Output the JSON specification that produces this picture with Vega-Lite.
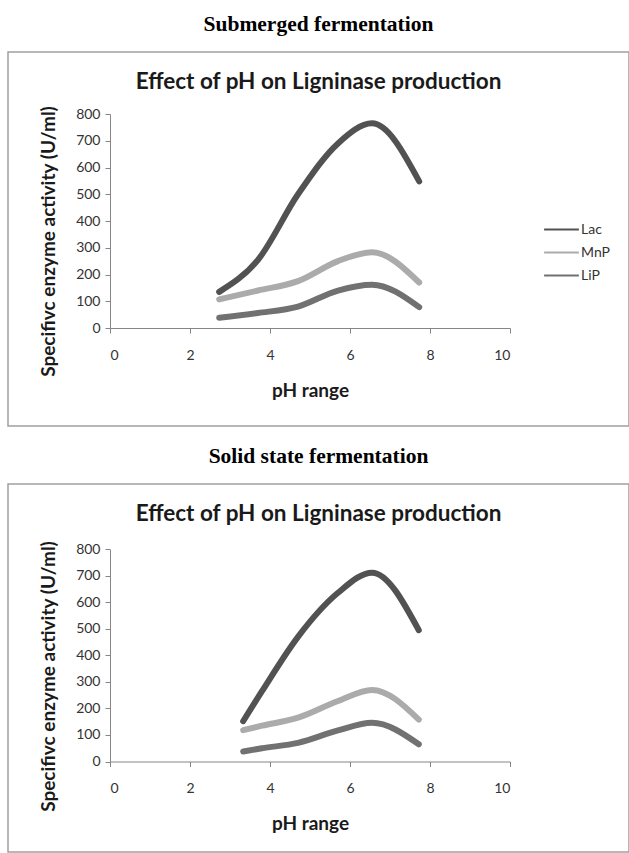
{
  "$schema": "https://vega.github.io/schema/vega-lite/v6.json",
  "padding": {"left": 7, "top": 13, "right": 0, "bottom": 0},
  "background": "white",
  "data": {
    "values": [
      {"fermentation": "Submerged", "enzyme": "Lac", "pH": 2.73, "activity": 135},
      {"fermentation": "Submerged", "enzyme": "Lac", "pH": 3.7, "activity": 255},
      {"fermentation": "Submerged", "enzyme": "Lac", "pH": 4.7, "activity": 500},
      {"fermentation": "Submerged", "enzyme": "Lac", "pH": 5.7, "activity": 690},
      {"fermentation": "Submerged", "enzyme": "Lac", "pH": 6.55, "activity": 765},
      {"fermentation": "Submerged", "enzyme": "Lac", "pH": 7.73, "activity": 548},
      {"fermentation": "Submerged", "enzyme": "MnP", "pH": 2.73, "activity": 107},
      {"fermentation": "Submerged", "enzyme": "MnP", "pH": 3.7, "activity": 140},
      {"fermentation": "Submerged", "enzyme": "MnP", "pH": 4.7, "activity": 175},
      {"fermentation": "Submerged", "enzyme": "MnP", "pH": 5.7, "activity": 250},
      {"fermentation": "Submerged", "enzyme": "MnP", "pH": 6.55, "activity": 283},
      {"fermentation": "Submerged", "enzyme": "MnP", "pH": 7.73, "activity": 170},
      {"fermentation": "Submerged", "enzyme": "LiP", "pH": 2.73, "activity": 38},
      {"fermentation": "Submerged", "enzyme": "LiP", "pH": 3.7, "activity": 56},
      {"fermentation": "Submerged", "enzyme": "LiP", "pH": 4.7, "activity": 80},
      {"fermentation": "Submerged", "enzyme": "LiP", "pH": 5.7, "activity": 140},
      {"fermentation": "Submerged", "enzyme": "LiP", "pH": 6.55, "activity": 162},
      {"fermentation": "Submerged", "enzyme": "LiP", "pH": 7.73, "activity": 78},
      {"fermentation": "Solid", "enzyme": "Lac", "pH": 3.33, "activity": 152},
      {"fermentation": "Solid", "enzyme": "Lac", "pH": 3.8, "activity": 265},
      {"fermentation": "Solid", "enzyme": "Lac", "pH": 4.7, "activity": 470},
      {"fermentation": "Solid", "enzyme": "Lac", "pH": 5.7, "activity": 636},
      {"fermentation": "Solid", "enzyme": "Lac", "pH": 6.55, "activity": 712},
      {"fermentation": "Solid", "enzyme": "Lac", "pH": 7.72, "activity": 495},
      {"fermentation": "Solid", "enzyme": "MnP", "pH": 3.33, "activity": 118},
      {"fermentation": "Solid", "enzyme": "MnP", "pH": 3.8, "activity": 135},
      {"fermentation": "Solid", "enzyme": "MnP", "pH": 4.7, "activity": 165},
      {"fermentation": "Solid", "enzyme": "MnP", "pH": 5.7, "activity": 228},
      {"fermentation": "Solid", "enzyme": "MnP", "pH": 6.55, "activity": 270},
      {"fermentation": "Solid", "enzyme": "MnP", "pH": 7.72, "activity": 158},
      {"fermentation": "Solid", "enzyme": "LiP", "pH": 3.33, "activity": 38},
      {"fermentation": "Solid", "enzyme": "LiP", "pH": 3.8, "activity": 50},
      {"fermentation": "Solid", "enzyme": "LiP", "pH": 4.7, "activity": 70},
      {"fermentation": "Solid", "enzyme": "LiP", "pH": 5.7, "activity": 117},
      {"fermentation": "Solid", "enzyme": "LiP", "pH": 6.55, "activity": 146},
      {"fermentation": "Solid", "enzyme": "LiP", "pH": 7.72, "activity": 65}
    ]
  },
  "config": {
    "view": {"stroke": "#a0a0a0", "strokeWidth": 1.5},
    "axis": {
      "grid": false,
      "domainColor": "#868686",
      "tickColor": "#868686",
      "tickSize": 5,
      "labelFont": "Lato",
      "labelFontSize": 14,
      "labelColor": "#333333",
      "titleFont": "Lato",
      "titleFontSize": 19,
      "titleFontWeight": "bold",
      "titleColor": "#1a1a1a"
    },
    "legend": {
      "labelFont": "Lato",
      "labelFontSize": 14,
      "labelColor": "#333333"
    }
  },
  "spacing": 58,
  "bounds": "flush",
  "vconcat": [
    {
      "width": 621,
      "height": 374,
      "title": {
        "text": "Submerged fermentation",
        "subtitle": "Effect of pH on Ligninase production",
        "font": "Liberation Serif",
        "fontSize": 21.5,
        "fontWeight": "bold",
        "color": "#000000",
        "subtitleFont": "Lato",
        "subtitleFontSize": 22.5,
        "subtitleFontWeight": "bold",
        "subtitleColor": "#1a1a1a",
        "subtitlePadding": 35,
        "offset": -41,
        "anchor": "middle",
        "frame": "group"
      },
      "transform": [{"filter": "datum.fermentation === 'Submerged'"}],
      "mark": {"type": "line", "interpolate": "monotone", "strokeWidth": 6, "strokeCap": "round"},
      "encoding": {
        "x": {
          "field": "pH", "type": "quantitative",
          "scale": {"domain": [0, 10], "range": [102, 502]},
          "axis": {"values": [0, 2, 4, 6, 8, 10], "offset": -98, "labelPadding": 15, "title": "pH range", "titlePadding": 19}
        },
        "y": {
          "field": "activity", "type": "quantitative",
          "scale": {"domain": [0, 800], "range": [276, 62]},
          "axis": {"values": [0, 100, 200, 300, 400, 500, 600, 700, 800], "offset": -102, "labelPadding": 5, "title": "Specifivc enzyme activity (U/ml)", "titlePadding": 17, "titleY": 189}
        },
        "color": {
          "field": "enzyme", "type": "nominal",
          "scale": {"domain": ["Lac", "MnP", "LiP"], "range": ["#525252", "#ababab", "#717171"]},
          "legend": {
            "orient": "none", "legendX": 538, "legendY": 162, "title": null,
            "symbolType": "M-1.2,0H1.2", "symbolSize": 841, "symbolStrokeWidth": 2,
            "labelOffset": 4, "rowPadding": 0,
            "encode": {"symbols": {"update": {"strokeWidth": {"value": 2}}}}
          }
        }
      }
    },
    {
      "width": 621,
      "height": 368,
      "title": {
        "text": "Solid state fermentation",
        "subtitle": "Effect of pH on Ligninase production",
        "font": "Liberation Serif",
        "fontSize": 21.5,
        "fontWeight": "bold",
        "color": "#000000",
        "subtitleFont": "Lato",
        "subtitleFontSize": 22.5,
        "subtitleFontWeight": "bold",
        "subtitleColor": "#1a1a1a",
        "subtitlePadding": 36,
        "offset": -41.5,
        "anchor": "middle",
        "frame": "group"
      },
      "transform": [{"filter": "datum.fermentation === 'Solid'"}],
      "mark": {"type": "line", "interpolate": "monotone", "strokeWidth": 6, "strokeCap": "round"},
      "encoding": {
        "x": {
          "field": "pH", "type": "quantitative",
          "scale": {"domain": [0, 10], "range": [102, 502]},
          "axis": {"values": [0, 2, 4, 6, 8, 10], "offset": -90.5, "labelPadding": 15, "title": "pH range", "titlePadding": 19}
        },
        "y": {
          "field": "activity", "type": "quantitative",
          "scale": {"domain": [0, 800], "range": [277.5, 65.3]},
          "axis": {"values": [0, 100, 200, 300, 400, 500, 600, 700, 800], "offset": -102, "labelPadding": 5, "title": "Specifivc enzyme activity (U/ml)", "titlePadding": 17, "titleY": 192}
        },
        "color": {
          "field": "enzyme", "type": "nominal",
          "scale": {"domain": ["Lac", "MnP", "LiP"], "range": ["#525252", "#ababab", "#717171"]},
          "legend": {
            "orient": "none", "legendX": 538, "legendY": 165, "title": null,
            "symbolType": "M-1.2,0H1.2", "symbolSize": 841, "symbolStrokeWidth": 2,
            "labelOffset": 4, "rowPadding": 0,
            "encode": {"symbols": {"update": {"strokeWidth": {"value": 2}}}}
          }
        }
      }
    }
  ]
}
